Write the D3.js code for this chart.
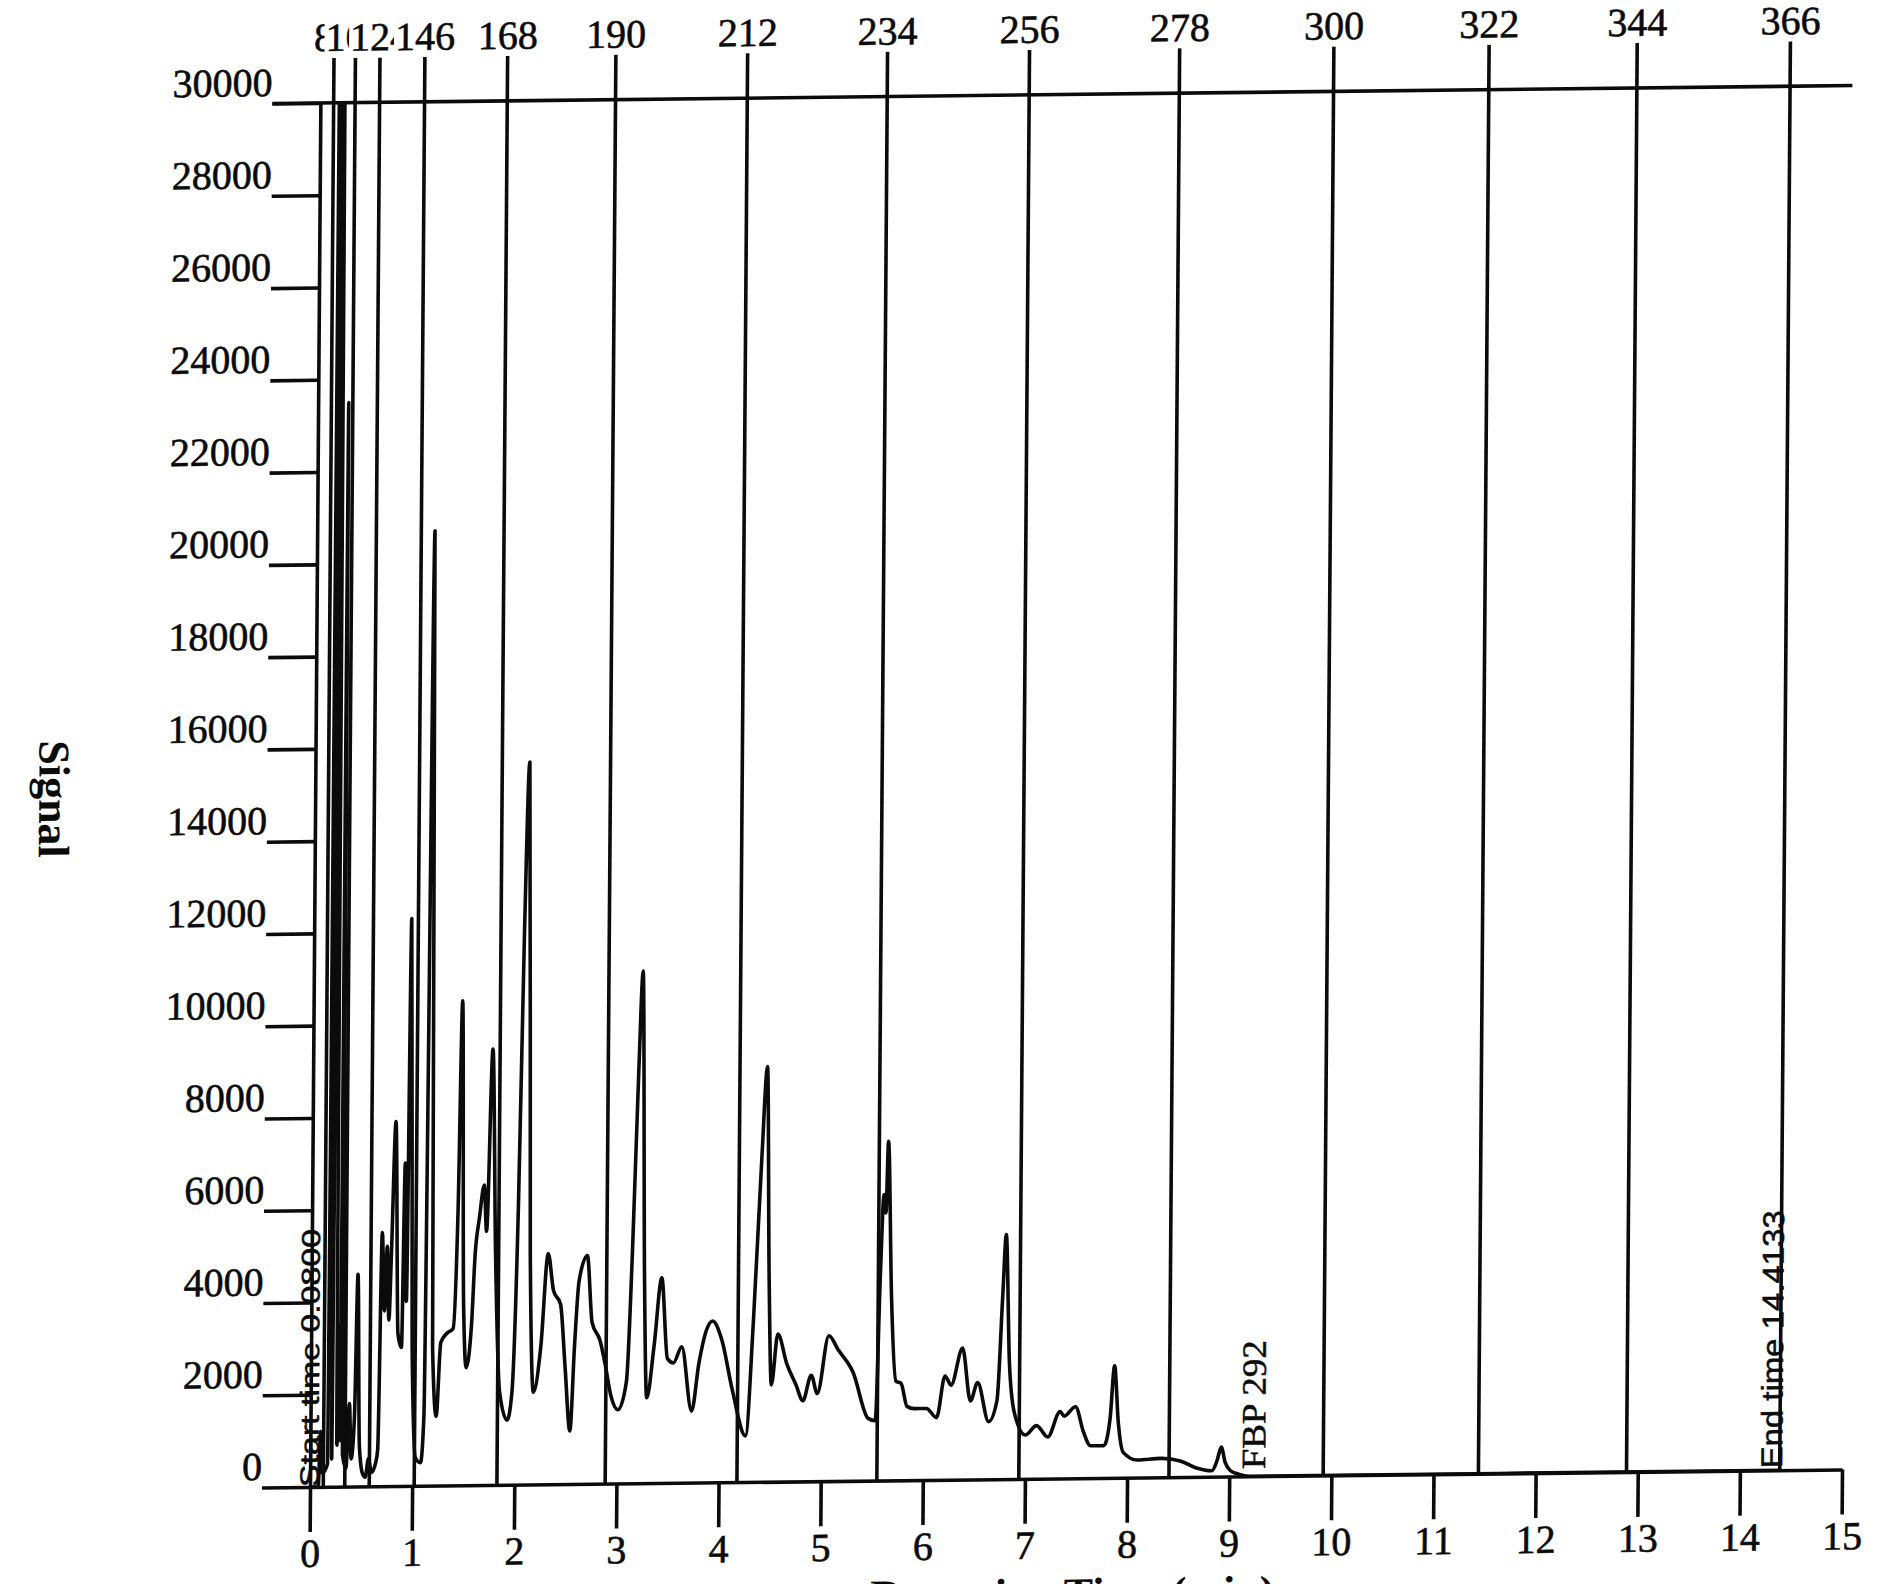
<!DOCTYPE html>
<html><head><meta charset="utf-8">
<script src="https://cdn.jsdelivr.net/npm/d3@7"></script>
<style>html,body{margin:0;padding:0;background:#fff;} svg{display:block;}</style>
</head><body>
<svg id="chart" width="1885" height="1584"></svg>
<script>
// ---------- data ----------
const xTickValues = [0,1,2,3,4,5,6,7,8,9,10,11,12,13,14,15];
const yTickValues = [0,2000,4000,6000,8000,10000,12000,14000,16000,18000,20000,22000,24000,26000,28000,30000];
const markerTimes  = [0.13,0.34,0.58,1.02,1.83,2.89,4.18,5.55,6.94,8.41,9.92,11.44,12.89,14.39];
const markerLabels = ["80","102","124","146","168","190","212","234","256","278","300","322","344","366"];
const retentionTime = [0,0.08,0.10,0.12,0.17,0.19,0.21,0.235,0.26,0.28,0.29,0.30,0.315,0.35,0.38,0.40,0.43,0.455,0.48,0.51,0.54,0.57,0.60,0.64,0.66,0.69,0.715,0.74,0.76,0.78,0.816,0.85,0.885,0.91,0.93,0.955,0.99,1.03,1.08,1.11,1.154,1.19,1.23,1.27,1.33,1.39,1.43,1.46,1.49,1.52,1.57,1.60,1.64,1.685,1.71,1.76,1.80,1.85,1.925,1.97,2.02,2.06,2.10,2.14,2.18,2.25,2.316,2.37,2.44,2.49,2.54,2.58,2.62,2.70,2.75,2.83,2.88,2.94,3.01,3.09,3.14,3.19,3.225,3.26,3.29,3.36,3.43,3.49,3.55,3.63,3.73,3.80,3.87,3.93,4.02,4.13,4.26,4.33,4.40,4.45,4.48,4.51,4.57,4.66,4.75,4.82,4.90,4.96,5.07,5.16,5.31,5.46,5.53,5.57,5.60,5.62,5.64,5.68,5.73,5.78,5.84,5.91,6.03,6.13,6.21,6.27,6.38,6.46,6.53,6.64,6.72,6.77,6.80,6.84,6.89,7.00,7.11,7.22,7.34,7.38,7.49,7.57,7.64,7.77,7.83,7.87,7.91,7.96,8.10,8.33,8.52,8.67,8.83,8.88,8.92,8.96,9.01,9.09,9.20,14.41];
const signal = [0,0,1200,300,500,34000,600,34000,900,3500,1000,23500,700,400,1800,600,1500,4600,900,300,200,600,300,500,800,5500,3800,5200,3600,5000,7900,3300,3000,7000,4000,12300,3000,600,500,1500,20700,3000,1500,3100,3300,3400,6000,10500,4000,2550,3500,5000,5800,6500,5500,9450,5000,2000,1400,2000,6000,12000,15660,5000,2000,3000,5000,4200,3900,2500,1150,3000,4400,4950,3500,3100,2600,1900,1600,2200,5000,9000,11100,4500,1850,3000,4450,2700,2600,2950,1550,2600,3300,3500,3100,1980,1000,3500,7000,9000,4500,2100,3200,2550,2100,1750,2300,1900,3150,2850,2350,1350,1300,4500,6200,5800,7350,4000,2150,2100,1600,1550,1550,1350,2250,2050,2850,1700,2100,1250,1700,4000,5300,2500,1450,950,1150,900,1450,1350,1550,1000,700,700,1300,2430,1200,550,380,410,350,200,130,350,640,300,130,50,0,0];
const annotationTexts = ["Start time 0.0800","FBP 292","End time 14.4133"];
const annotationTimes = [0.08, 9.35, 14.4133];
const yAxisTitle = "Signal";
const xAxisTitle = "Retention Time (min)";

// ---------- layout ----------
const svg = d3.select("#chart");
svg.append("rect").attr("width",1885).attr("height",1584).attr("fill","#fff");
const x = d3.scaleLinear().domain([0,15]).range([310,1842]);
const y = d3.scaleLinear().domain([0,30000]).range([1487,103]);
const kx = 0.0075, ky = 0.0114, u0 = 310, w0 = 1487;
const g = svg.append("g")
  .attr("transform", `matrix(1,${-ky},${-kx},1,${kx*w0},${ky*u0})`);

const ink = "#0b0b0b";
const serif = "'Liberation Serif','Times New Roman',serif";
const LW = 3.6;

// clip for trace
g.append("clipPath").attr("id","plotclip")
  .append("rect").attr("x",x(0)).attr("y",y(30000)).attr("width",x(15)-x(0)).attr("height",y(0)-y(30000));

// marker lines
g.append("g").selectAll("line").data(markerTimes).join("line")
  .attr("x1",d=>x(d)).attr("x2",d=>x(d)).attr("y1",y(0)).attr("y2",58)
  .attr("stroke",ink).attr("stroke-width",LW);

// marker labels with white backgrounds (later ones cover earlier ones)
const ml = g.append("g");
markerLabels.forEach((lab,i)=>{
  const gg = ml.append("g");
  const r = gg.append("rect").attr("fill","#fff");
  const t = gg.append("text").attr("x",x(markerTimes[i])).attr("y",51)
    .attr("text-anchor","middle").attr("font-family",serif).attr("font-size",40)
    .attr("fill",ink).attr("stroke",ink).attr("stroke-width",0.6).text(lab);
  const bb = t.node().getBBox();
  r.attr("x",bb.x-1).attr("y",bb.y+4).attr("width",bb.width+2).attr("height",bb.height-6);
});

// trace
const line = d3.line().x(d=>x(d[0])).y(d=>y(d[1])).curve(d3.curveMonotoneX);
const pts = retentionTime.map((t,i)=>[t,signal[i]]);
g.append("path").datum(pts).attr("d",line).attr("clip-path","url(#plotclip)")
  .attr("fill","none").attr("stroke",ink).attr("stroke-width",LW).attr("stroke-linejoin","round");

// y axis
const yAxis = d3.axisLeft(y).tickValues(yTickValues).tickSize(48).tickSizeOuter(0).tickFormat(d=>String(d));
const ya = g.append("g").attr("transform",`translate(${x(0)},0)`).call(yAxis);
ya.selectAll("path,line").attr("stroke",ink).attr("stroke-width",LW);
ya.selectAll("text").attr("x",-48).attr("dy",0).attr("y",-8)
  .attr("font-family",serif).attr("font-size",40).attr("fill",ink)
  .attr("stroke",ink).attr("stroke-width",0.6);

// x axis
const xAxis = d3.axisBottom(x).tickValues(xTickValues).tickSize(45).tickSizeOuter(0).tickFormat(d=>String(d));
const xa = g.append("g").attr("transform",`translate(0,${y(0)})`).call(xAxis);
xa.selectAll("path,line").attr("stroke",ink).attr("stroke-width",LW);
xa.selectAll("text").attr("y",80).attr("dy",0)
  .attr("font-family",serif).attr("font-size",40).attr("fill",ink)
  .attr("stroke",ink).attr("stroke-width",0.6);
// top frame line (continues the 30000 tick)
g.append("line").attr("x1",x(0)-48).attr("x2",x(15)).attr("y1",y(30000)).attr("y2",y(30000))
  .attr("stroke",ink).attr("stroke-width",LW);

// annotations (vertical text)
const annFont = ["'Liberation Sans',Arial,sans-serif", serif, "'Liberation Sans',Arial,sans-serif"];
const annSize = [26, 34, 30];
const annLen = [258, 129, 258];
const annLift = [0, 7, 2];
annotationTexts.forEach((txt,i)=>{
  const ax = x(annotationTimes[i]), ay = y(0) - annLift[i];
  g.append("text").attr("transform",`translate(${ax},${ay}) rotate(-90)`)
    .attr("x",0).attr("y",0).attr("font-family",annFont[i]).attr("font-size",annSize[i])
    .attr("textLength",annLen[i]).attr("lengthAdjust","spacingAndGlyphs")
    .attr("fill",ink).attr("stroke",ink).attr("stroke-width",0.5).text(txt);
});

// axis titles
g.append("text").attr("transform","translate(34,796) rotate(90)")
  .attr("text-anchor","middle").attr("font-family",serif).attr("font-weight","bold")
  .attr("font-size",44).attr("fill",ink).text(yAxisTitle);
g.append("text").attr("x",1073).attr("y",1617).attr("text-anchor","middle")
  .attr("font-family",serif).attr("font-weight","bold").attr("font-size",44).attr("fill",ink).text(xAxisTitle);
</script>
</body></html>
